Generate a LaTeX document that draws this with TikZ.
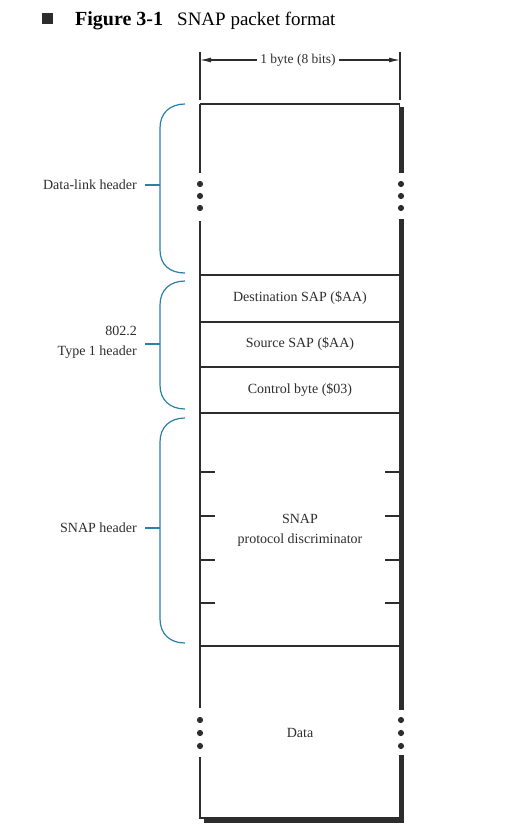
\documentclass[tikz,border=0pt]{standalone}
\usepackage{fontspec}
\setmainfont{Liberation Serif}
\usetikzlibrary{arrows.meta}
\definecolor{bracecol}{RGB}{42,128,168}
\definecolor{ink}{RGB}{45,45,45}
\begin{document}
\begin{tikzpicture}[x=1pt,y=-1pt,
  txt/.style={font=\fontsize{14}{20}\selectfont, text=ink, inner sep=0pt},
  lbl/.style={txt, anchor=east, align=right},
  thin/.style={draw=ink, line width=1.1pt},
  sep/.style={draw=ink, line width=1.4pt},
  brace/.style={draw=bracecol, line width=1.2pt},
  shadow/.style={fill=ink},
  dotf/.style={fill=ink}]
\useasboundingbox (0,0) rectangle (526,830);

% title
\fill[ink] (42,13) rectangle (53,24);
\node[anchor=base west, inner sep=0pt, font=\fontsize{20}{22}\selectfont\bfseries] (fig) at (75,25) {Figure 3-1};
\node[anchor=base west, inner sep=0pt, font=\fontsize{19}{22}\selectfont] (cap) at (177,25) {SNAP packet format};

% width dimension
\coordinate (dl) at (200,60);
\coordinate (dr) at (400,60);
\draw[thin] (200,52) -- (200,100);
\draw[thin] (400,52) -- (400,100);
\node[txt, font=\fontsize{13.5}{15}\selectfont] (width) at (298,60) {1 byte (8 bits)};
\draw[thin, -{Latex[length=11pt,width=5pt]}] (width.west) ++(-3,0) -- (dl);
\draw[thin, -{Latex[length=11pt,width=5pt]}] (width.east) ++(3,0) -- (dr);

% box outline
\draw[thin] (200,104) -- (400,104);
\draw[thin] (200,104) -- (200,173);
\draw[thin] (200,221) -- (200,708);
\draw[thin] (200,757) -- (200,818) -- (400,818);
\draw[thin] (399.5,104) -- (399.5,108);
% shadow
\fill[shadow] (398.5,107) rectangle (403.5,173);
\fill[shadow] (398.5,219) rectangle (403.5,710);
\fill[shadow] (398.5,755) rectangle (403.5,823);
\fill[shadow] (204,817.5) rectangle (403.5,823);

% separators
\draw[sep] (200,275) -- (400,275);
\draw[sep] (200,322) -- (400,322);
\draw[sep] (200,367) -- (400,367);
\draw[sep] (200,413) -- (400,413);
\draw[draw=ink, line width=2pt] (200,646) -- (400,646);

% ticks in SNAP field
\foreach \y in {472,516,560,603} {
  \draw[thin] (200,\y) -- (215,\y);
  \draw[thin] (385,\y) -- (399,\y);
}

% ellipsis dots
\foreach \y in {184,196,208,720,733,746} {
  \fill[dotf] (200,\y) circle (3.1);
  \fill[dotf] (401,\y) circle (3.1);
}

% field texts
\node[txt] (dst) at (300,298) {Destination SAP (\$AA)};
\node[txt] (src) at (300,344) {Source SAP (\$AA)};
\node[txt] (ctl) at (300,390) {Control byte (\$03)};
\node[txt, align=center] (pd) at (300,530) {SNAP\\protocol discriminator};
\node[txt] (data) at (300,733) {Data};

% side labels
\node[lbl] (dlh) at (137,185) {Data-link header};
\node[lbl] (t1h) at (137,342) {802.2\\Type 1 header};
\node[lbl] (snh) at (137,528) {SNAP header};

% braces
\coordinate (b1) at (160,185);
\coordinate (b2) at (160,344);
\coordinate (b3) at (160,528);
\draw[brace] (185,104) .. controls (170,104) and (160,113) .. (160,128) -- (160,250) .. controls (160,265) and (170,273) .. (185,273);
\draw[brace] (dlh.east) ++(8,0) -- (b1);
\draw[brace] (185,281) .. controls (170,281) and (160,290) .. (160,305) -- (160,385) .. controls (160,400) and (170,409) .. (185,409);
\draw[brace] (t1h.east |- b2) ++(8,0) -- (b2);
\draw[brace] (185,418) .. controls (170,418) and (160,427) .. (160,442) -- (160,619) .. controls (160,634) and (170,643) .. (185,643);
\draw[brace] (snh.east) ++(8,0) -- (b3);
\end{tikzpicture}
\end{document}
